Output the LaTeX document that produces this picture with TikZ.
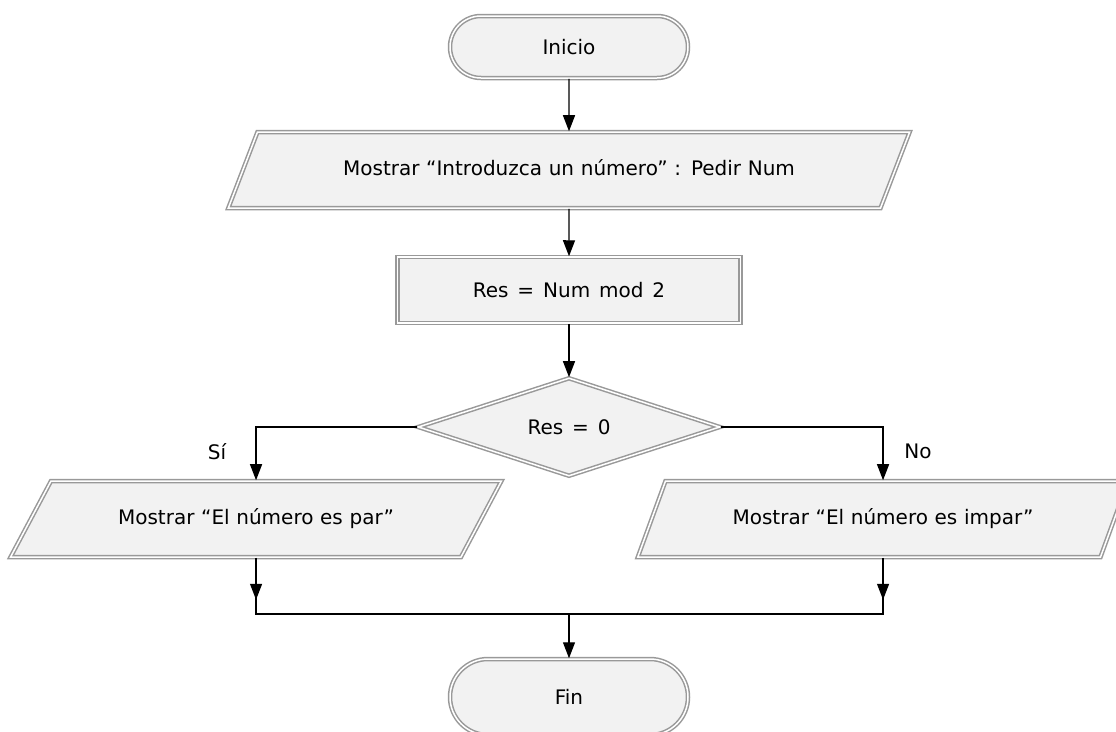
\documentclass[tikz,border=0pt]{standalone}
\usepackage{fontspec}
\setmainfont{DejaVu Sans}[WordSpace=1.4]
\usetikzlibrary{arrows.meta,shapes.geometric,shapes.misc}

\begin{document}
\begin{tikzpicture}[x=1pt,y=-1pt,
        box/.style={draw=gray!80,line width=1.5pt,double=white,double distance=1.5pt,
            fill=gray!10,inner sep=0pt,font=\fontsize{20}{24}\selectfont},
        term/.style={box,rounded rectangle,minimum width=238pt,minimum height=62pt},
        io/.style={box,trapezium,align=center,text height=14pt,text depth=4pt,inner ysep=29pt},
        proc/.style={box,rectangle,minimum width=343pt,minimum height=66pt},
        decide/.style={box,diamond,minimum width=302pt,minimum height=96pt},
        arr/.style={-{Triangle[width=12pt,length=16pt]},line width=1.3pt},
        lbl/.style={font=\fontsize{20}{24}\selectfont}]
        \useasboundingbox (0,0) rectangle (1116,731);

        \node[term] (start) at (569,47) {Inicio};
        \node[io,trapezium left angle=69,trapezium right angle=111,text width=623pt]
            (ask) at (569,170) {Mostrar “Introduzca un número” : Pedir Num};
        \node[proc] (res) at (569,290) {Res = Num mod 2};
        \node[decide] (test) at (569,427) {Res = 0};
        \node[io,trapezium left angle=62,trapezium right angle=118,text width=410pt]
            (even) at (256,519) {Mostrar “El número es par”};
        \node[io,trapezium left angle=70,trapezium right angle=110,text width=435pt]
            (odd) at (883,519) {Mostrar “El número es impar”};
        \node[term,minimum height=76pt] (stop) at (569,697) {Fin};

        \coordinate (join) at (569,614);

        \draw[arr] (start) -- (ask);
        \draw[arr] (ask) -- (res);
        \draw[arr] (res) -- (test);
        \draw[arr] (test.west) -| (even.north);
        \draw[arr] (test.east) -| (odd.north);
        \node[lbl] (yes) at (217,452) {Sí};
        \node[lbl] (no) at (918,451) {No};

        \draw[arr] (even.south) -- ++(0,42);
        \draw[arr] (odd.south) -- ++(0,42);
        \draw[line width=1.3pt] (even.south) -- (even.south |- join) -- (odd.south |- join) -- (odd.south);
        \draw[arr] (join) -- (stop);
    \end{tikzpicture}
\end{document}
